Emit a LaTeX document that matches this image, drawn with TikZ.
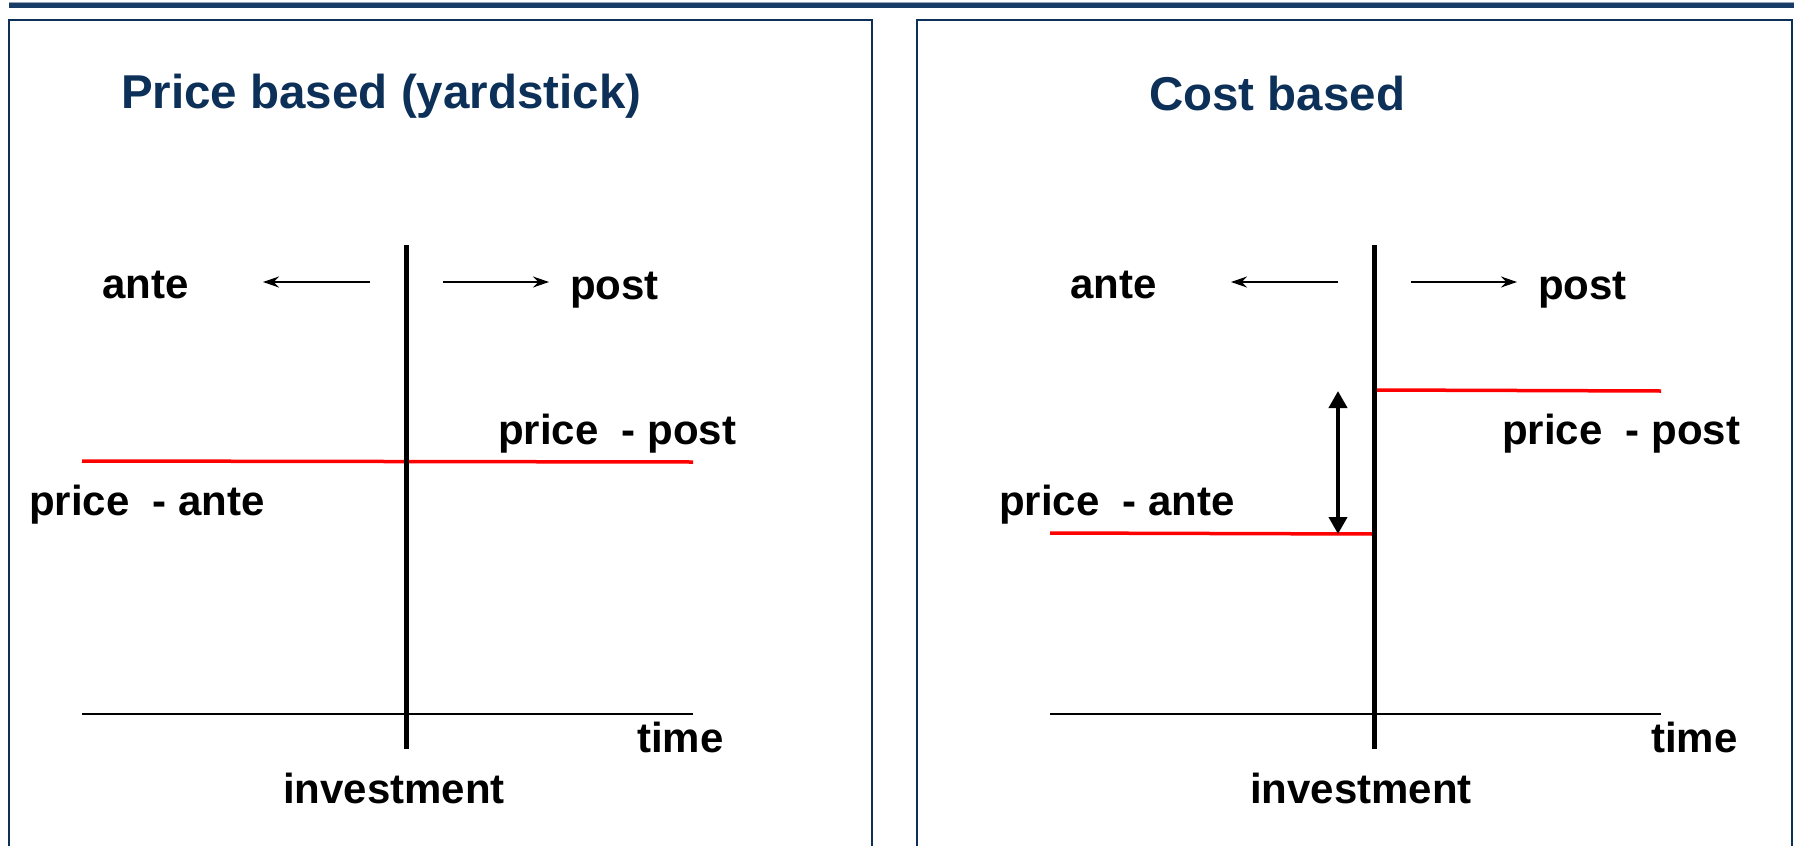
\documentclass[tikz,border=0pt]{standalone}
\usepackage{fontspec}
\setmainfont{Liberation Sans}
\usetikzlibrary{arrows.meta}
\definecolor{navy}{RGB}{12,48,88}
\definecolor{barnavy}{RGB}{24,60,102}
\definecolor{bargrey}{RGB}{150,165,185}
\begin{document}
\begin{tikzpicture}[x=1pt,y=-1pt,
  lbl/.style={font=\fontsize{42}{50}\selectfont\bfseries, inner sep=0pt, anchor=west},
  ttl/.style={font=\fontsize{47.5}{56}\selectfont\bfseries, text=navy, inner sep=0pt, anchor=west},
  panel/.style={draw=navy, line width=2pt},
  invline/.style={line width=5pt, black},
  axisline/.style={line width=1.5pt, black},
  priceline/.style={red, line width=3.5pt},
  smallarrow/.style={line width=1.4pt, -{Stealth[length=16pt,width=11pt]}},
  dblarrow/.style={line width=4pt, {Triangle[length=17pt,width=18pt]}-{Triangle[length=17pt,width=18pt]}}
]
\useasboundingbox (0,0) rectangle (1794,846);
% top bar
\fill[bargrey] (9,1.5) rectangle (1794,3);
\fill[barnavy] (9,3) rectangle (1794,7.5);
% panels
\draw[panel] (9,860) -- (9,20) -- (872,20) -- (872,860);
\draw[panel] (917,860) -- (917,20) -- (1792,20) -- (1792,860);

% ---------- left panel ----------
\node[ttl] (Lttl) at (121,96) {Price based (yardstick)};
\coordinate (Ltop) at (406,245);
\coordinate (Lbot) at (406,749);
\coordinate (Lax1) at (82,714);
\coordinate (Lax2) at (693,714);
\coordinate (Lp1) at (82,461);
\coordinate (Lp2) at (693,462);
\coordinate (Lal1) at (370,282);
\coordinate (Lal2) at (263,282);
\coordinate (Lar1) at (443,282);
\coordinate (Lar2) at (549,282);
\draw[axisline] (Lax1) -- (Lax2);
\draw[priceline] (Lp1) -- (Lp2);
\draw[invline] (Ltop) -- (Lbot);
\draw[smallarrow] (Lal1) -- (Lal2);
\draw[smallarrow] (Lar1) -- (Lar2);
\node[lbl] (Lante) at (102,285) {ante};
\node[lbl] (Lpost) at (570,290) {post};
\node[lbl] (Lpp) at (498,434) {price\ \ - post};
\node[lbl] (Lpa) at (29,505) {price\ \ - ante};
\node[lbl] (Ltime) at (637,737) {time};
\node[lbl] (Linv) at (283,788) {investment};

% ---------- right panel ----------
\node[ttl] (Rttl) at (1149,94) {Cost based};
\coordinate (Rtop) at (1374,245);
\coordinate (Rbot) at (1374,749);
\coordinate (Rax1) at (1050,714);
\coordinate (Rax2) at (1661,714);
\coordinate (Ra1) at (1050,533);
\coordinate (Ra2) at (1374,534);
\coordinate (Rq1) at (1376,390);
\coordinate (Rq2) at (1661,391);
\coordinate (Rd1) at (1338,391);
\coordinate (Rd2) at (1338,534);
\coordinate (Ral1) at (1338,282);
\coordinate (Ral2) at (1231,282);
\coordinate (Rar1) at (1411,282);
\coordinate (Rar2) at (1517,282);
\draw[axisline] (Rax1) -- (Rax2);
\draw[priceline] (Ra1) -- (Ra2);
\draw[priceline] (Rq1) -- (Rq2);
\draw[invline] (Rtop) -- (Rbot);
\draw[smallarrow] (Ral1) -- (Ral2);
\draw[smallarrow] (Rar1) -- (Rar2);
\draw[dblarrow] (Rd1) -- (Rd2);
\node[lbl] (Rante) at (1070,285) {ante};
\node[lbl] (Rpost) at (1538,290) {post};
\node[lbl] (Rpp) at (1502,434) {price\ \ - post};
\node[lbl] (Rpa) at (999,505) {price\ \ - ante};
\node[lbl] (Rtime) at (1651,737) {time};
\node[lbl] (Rinv) at (1250,788) {investment};
\end{tikzpicture}
\end{document}
